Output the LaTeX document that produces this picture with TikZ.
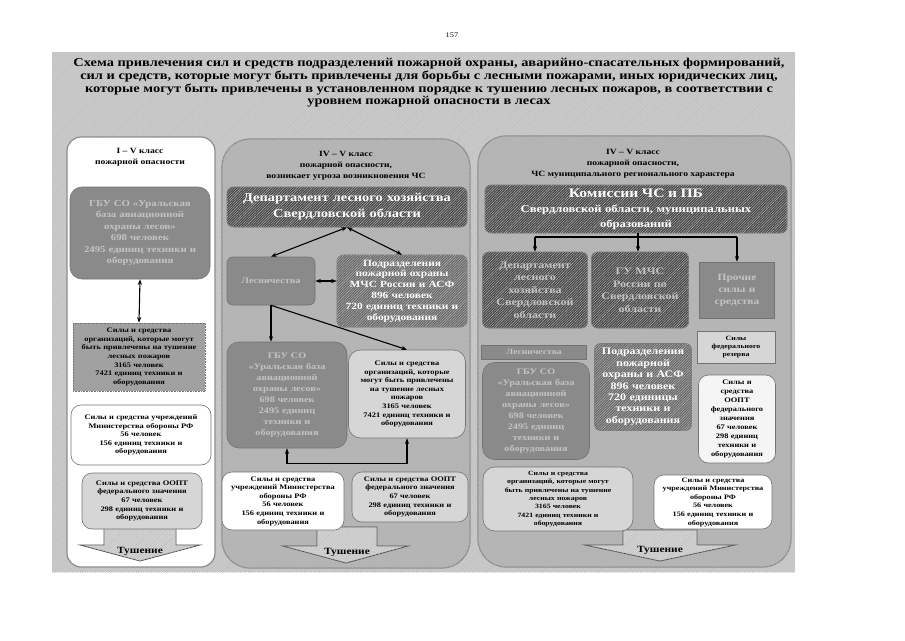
\documentclass[tikz,border=0pt]{standalone}
\usepackage{fontspec}
\setmainfont[FakeStretch=1.2]{Liberation Serif}
\usetikzlibrary{positioning,arrows.meta,patterns.meta,calc}
\definecolor{fsDark}{RGB}{70,70,70}
\definecolor{fsMid}{RGB}{105,105,105}
\definecolor{fsGray}{RGB}{138,138,138}
\definecolor{fsFade}{RGB}{196,196,196}
\definecolor{fsLight}{RGB}{214,214,214}
\definecolor{fsPanel}{RGB}{180,180,180}
\definecolor{fsBack}{RGB}{206,206,206}

\begin{document}
\begin{tikzpicture}[
  x=1pt, y=-1pt,
  font=\bfseries\fontsize{7}{8.6}\selectfont,
  hatch/.style={postaction={pattern={Lines[angle=45,distance=1.8pt,line width=0.4pt]},
    pattern color=black!28}},
  panel/.style={draw=black!45, line width=1.2pt, rounded corners=28pt},
  box/.style={draw=black!55, line width=0.6pt, rounded corners=6pt, align=center,
    inner sep=1pt},
  darkb/.style={box, fill=fsDark, text=white, hatch},
  midb/.style={box, fill=fsMid, text=white, hatch},
  fadeb/.style={box, fill=fsGray, text=fsFade, font=\bfseries\fontsize{8.5}{11}\selectfont},
  grayb/.style={box, fill=fsGray!80, text=black},
  lightb/.style={box, fill=fsLight},
  whiteb/.style={box, fill=white},
  head/.style={align=center, font=\bfseries\fontsize{8}{11.2}\selectfont},
  tush/.style={draw=black!70, line width=0.8pt, fill=fsLight, hatch},
  tushtxt/.style={font=\bfseries\fontsize{9.5}{11}\selectfont, inner sep=0pt},
  ar/.style={-{Stealth[length=2mm]}, line width=1.1pt},
  dar/.style={{Stealth[length=2mm]}-{Stealth[length=2mm]}, line width=1.1pt}
]
  \useasboundingbox (0,0) rectangle (905,640);
  \fill[white] (0,0) rectangle (905,640);
  \fill[fsBack, hatch] (52,52) rectangle (795,572);
  \node[font=\fontsize{7}{8}\selectfont] (pg) at (452,35) {157};
  \node[align=center, font=\bfseries\fontsize{12}{12.6}\selectfont] (ttl) at (429,83)
    {Схема привлечения сил и средств подразделений пожарной охраны, аварийно-спасательных формирований,\\
     сил и средств, которые могут быть привлечены для борьбы с лесными пожарами, иных юридических лиц,\\
     которые могут быть привлечены в установленном порядке к тушению лесных пожаров, в соответствии с\\
     уровнем пожарной опасности в лесах};
  % колонки
  \draw[panel, fill=white, rounded corners=14pt] (67,137) rectangle (215,567);
  \draw[panel, fill=fsPanel, hatch] (222,139) rectangle (470,568);
  \draw[panel, fill=fsPanel, hatch] (478,136) rectangle (791,567);
  % тушение
  \draw[tush] (104,522) -- (176,522) -- (176,545) -- (200,545) -- (140,561) -- (80,545) -- (104,545) -- cycle;
  \draw[tush] (317,527) -- (377,527) -- (377,546) -- (408,546) -- (346,563) -- (283,546) -- (317,546) -- cycle;
  \draw[tush] (623,530) -- (697,530) -- (697,545) -- (735,545) -- (660,561) -- (585,545) -- (623,545) -- cycle;
  \node[tushtxt] (tl) at (140,551) {Тушение};
  \node[tushtxt] (tm) at (347,552) {Тушение};
  \node[tushtxt] (tr) at (660,550) {Тушение};
  % I - V класс
  \node[head] (lhead) at (140,157) {I – V класс\\пожарной опасности};
  \node[fadeb, minimum width=140pt, minimum height=92pt, text width=134pt, rounded corners=12pt,
    font=\bfseries\fontsize{9}{11.4}\selectfont] (lgbu) at (140,233)
    {ГБУ СО «Уральская\\база авиационной\\охраны лесов»\\698 человек\\2495 единиц техники и\\оборудования};
  \node[grayb, minimum width=132pt, minimum height=68pt, text width=128pt, rounded corners=0pt,
    densely dotted] (lsil) at (139,357)
    {Силы и средства\\организаций, которые могут\\быть привлечены на тушение\\лесных пожаров\\3165 человек\\7421 единиц техники и\\оборудования};
  \node[whiteb, minimum width=140pt, minimum height=60pt, text width=136pt, rounded corners=10pt] (lmo) at (141,435)
    {Силы и средства учреждений\\Министерства обороны РФ\\56 человек\\156 единиц техники и\\оборудования};
  \node[lightb, minimum width=120pt, minimum height=56pt, text width=116pt, rounded corners=10pt] (loopt) at (142,501)
    {Силы и средства ООПТ\\федерального значения\\67 человек\\298 единиц техники и\\оборудования};
  % IV - V класс, угроза ЧС
  \node[head] (mhead) at (346,166) {IV – V класс\\пожарной опасности,\\возникает угроза возникновения ЧС};
  \node[darkb, minimum width=240pt, minimum height=40pt, text width=236pt,
    font=\bfseries\fontsize{12}{16}\selectfont] (mdep) at (347,207)
    {Департамент лесного хозяйства\\Свердловской области};
  \node[fadeb, minimum width=88pt, minimum height=48pt, text width=84pt] (mles) at (271,281) {Лесничества};
  \node[midb, minimum width=130pt, minimum height=72pt, text width=126pt,
    font=\bfseries\fontsize{9.5}{10.8}\selectfont] (mpod) at (402,291)
    {Подразделения\\пожарной охраны\\МЧС России и АСФ\\896 человек\\720 единиц техники и\\оборудования};
  \node[fadeb, minimum width=120pt, minimum height=106pt, text width=116pt, rounded corners=12pt] (mgbu) at (287,395)
    {ГБУ СО\\«Уральская база\\авиационной\\охраны лесов»\\698 человек\\2495 единиц\\техники и\\оборудования};
  \node[lightb, minimum width=117pt, minimum height=88pt, text width=113pt, rounded corners=12pt] (msil) at (407,394)
    {Силы и средства\\организаций, которые\\могут быть привлечены\\на тушение лесных\\пожаров\\3165 человек\\7421 единиц техники и\\оборудования};
  \node[whiteb, minimum width=122pt, minimum height=58pt, text width=118pt, rounded corners=10pt] (mmo) at (283,501)
    {Силы и средства\\учреждений Министерства\\обороны РФ\\56 человек\\156 единиц техники и\\оборудования};
  \node[lightb, minimum width=116pt, minimum height=50pt, text width=112pt, rounded corners=10pt] (moopt) at (410,497)
    {Силы и средства ООПТ\\федерального значения\\67 человек\\298 единиц техники и\\оборудования};
  % IV - V класс, ЧС муниципального характера
  \node[head] (rhead) at (633,164) {IV – V класс\\пожарной опасности,\\ЧС муниципального регионального характера};
  \node[darkb, minimum width=302pt, minimum height=48pt, text width=298pt,
    font=\bfseries\fontsize{10.5}{15}\selectfont] (rkom) at (636,209)
    {{\fontsize{13}{15}\selectfont Комиссии ЧС и ПБ}\\Свердловской области, муниципальных\\образований};
  \node[darkb, minimum width=105pt, minimum height=76pt, text width=101pt, text=fsFade,
    font=\bfseries\fontsize{10}{12.5}\selectfont] (rdep) at (535,290)
    {Департамент\\лесного\\хозяйства\\Свердловской\\области};
  \node[darkb, minimum width=97pt, minimum height=76pt, text width=93pt, text=fsFade,
    font=\bfseries\fontsize{10}{12.5}\selectfont] (rgu) at (640,290)
    {ГУ МЧС\\России по\\Свердловской\\области};
  \node[fadeb, minimum width=75pt, minimum height=56pt, text width=71pt, rounded corners=0pt,
    font=\bfseries\fontsize{9.5}{12}\selectfont] (rpro) at (737,290)
    {Прочие\\силы и\\средства};
  \node[fadeb, minimum width=105pt, minimum height=14pt, text width=101pt, rounded corners=0pt,
    font=\bfseries\fontsize{8}{9}\selectfont] (rles) at (534,352) {Лесничества};
  \node[fadeb, minimum width=107pt, minimum height=97pt, text width=103pt, rounded corners=12pt] (rgbu) at (536,411)
    {ГБУ СО\\«Уральская база\\авиационной\\охраны лесов»\\698 человек\\2495 единиц\\техники и\\оборудования};
  \node[midb, minimum width=97pt, minimum height=87pt, text width=93pt,
    font=\bfseries\fontsize{10}{11.4}\selectfont] (rpod) at (643,387)
    {Подразделения\\пожарной\\охраны и АСФ\\896 человек\\720 единицы\\техники и\\оборудования};
  \node[lightb, minimum width=78pt, minimum height=32pt, text width=74pt, rounded corners=0pt,
    font=\bfseries\fontsize{6.5}{8.2}\selectfont] (rrez) at (736,347)
    {Силы\\федерального\\резерва};
  \node[whiteb, fill=black!4, minimum width=77pt, minimum height=88pt, text width=73pt, rounded corners=10pt,
    font=\bfseries\fontsize{7}{9}\selectfont] (roopt) at (737,419)
    {Силы и\\средства\\ООПТ\\федерального\\значения\\67 человек\\298 единиц\\техники и\\оборудования};
  \node[lightb, minimum width=150pt, minimum height=64pt, text width=146pt, rounded corners=12pt,
    font=\bfseries\fontsize{6.5}{8.3}\selectfont] (rsil) at (558,499)
    {Силы и средства\\организаций, которые могут\\быть привлечены на тушение\\лесных пожаров\\3165 человек\\7421 единиц техники и\\оборудования};
  \node[whiteb, minimum width=118pt, minimum height=54pt, text width=114pt, rounded corners=10pt,
    font=\bfseries\fontsize{6.8}{8.6}\selectfont] (rmo) at (713,502)
    {Силы и средства\\учреждений Министерства\\обороны РФ\\56 человек\\156 единиц техники и\\оборудования};
  % связи
  \draw[dar] (lgbu.south) -- (lsil.north);
  \draw[dar] (mdep.south) -- (mles.north);
  \draw[dar] (mdep.south) -- (mpod.north);
  \draw[dar] (mles.east) -- (mpod.west |- mles.east);
  \draw[ar] (mles.south) -- (mles.south |- mgbu.north);
  \draw[ar] (mles.south) -- (msil.north);
  \draw[dar] (mgbu.south) -- ++(0,15) -| (msil.south);
  \coordinate (rtree) at (638,237);
  \draw[line width=1.1pt] (rkom.south -| rtree) -- (rtree);
  \draw[line width=1.1pt] (rdep.north |- rtree) -- (rpro.north |- rtree);
  \draw[ar] (rdep.north |- rtree) -- (rdep.north);
  \draw[ar] (rtree) -- (rtree |- rgu.north);
  \draw[ar] (rpro.north |- rtree) -- (rpro.north);
\end{tikzpicture}
\end{document}
